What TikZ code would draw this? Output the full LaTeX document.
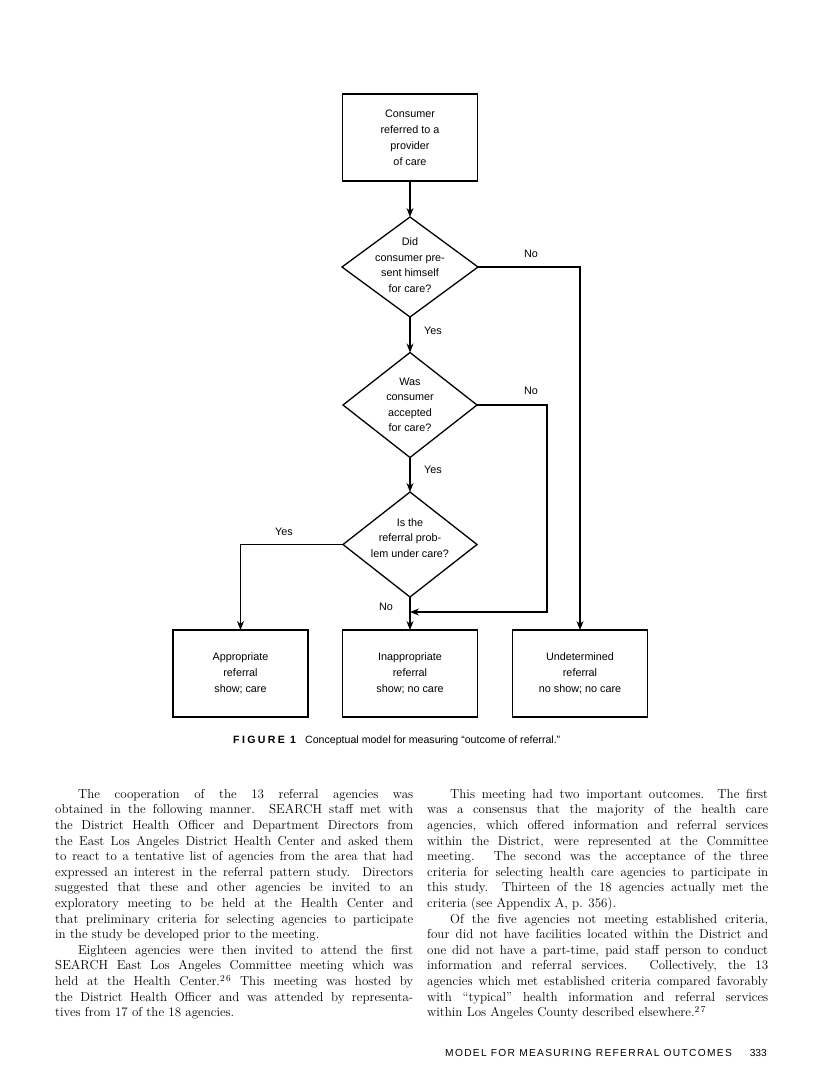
\documentclass[tikz,border=0pt]{standalone}
\usepackage{fontspec}
\newfontfamily\helv{Liberation Sans}
\newfontfamily\helvsp[LetterSpace=13]{Liberation Sans}
\newfontfamily\helvwide[LetterSpace=22]{Liberation Sans}
\usetikzlibrary{shapes.geometric,arrows.meta}
\newcommand{\jlL}[1]{\makebox[358pt][s]{#1}}
\newcommand{\jlR}[1]{\makebox[341pt][s]{#1}}
\begin{document}
\begin{tikzpicture}[x=1pt,y=-1pt,
  box/.style={draw, line width=1.3pt, minimum width=135pt, minimum height=87pt, inner sep=0pt, outer sep=0pt,
     font=\helv\fontsize{10.8}{16}\selectfont, align=center},
  decision/.style={draw, diamond, line width=1.3pt, inner sep=0pt, outer sep=0pt},
  ftext/.style={font=\helv\fontsize{10.8}{15.5}\selectfont, align=center, inner sep=0pt},
  lab/.style={font=\helv\fontsize{10.8}{13}\selectfont, inner sep=0pt},
  arr/.style={line width=1.2pt, -{Stealth[length=9pt,width=7pt]}},
  body/.style={font=\fontsize{13}{15.6}\selectfont, align=left, inner sep=0pt, anchor=north west}
]
\fill[white] (0,0) rectangle (816,1080);
\useasboundingbox (0,0) rectangle (816,1080);

% flowchart nodes
\node[box] (b1) at (410,137.5) {Consumer\\referred to a\\provider\\of care};
\node[decision, minimum width=136pt, minimum height=100pt] (d1) at (410,267) {};
\node[ftext] (d1t) at (410,265) {Did\\consumer pre-\\sent himself\\for care?};
\node[decision, minimum width=134pt, minimum height=105pt] (d2) at (410,405) {};
\node[ftext] (d2t) at (410,405) {Was\\consumer\\accepted\\for care?};
\node[decision, minimum width=134pt, minimum height=105pt] (d3) at (410,544.5) {};
\node[ftext] (d3t) at (410,538) {Is the\\referral prob-\\lem under care?};
\node[box] (A) at (240.5,673.5) {Appropriate\\referral\\show; care};
\node[box] (B) at (410,673.5) {Inappropriate\\referral\\show; no care};
\node[box] (C) at (580,673.5) {Undetermined\\referral\\no show; no care};

% labels
\node[lab] (y1) at (433,331) {Yes};
\node[lab] (n1) at (531,254) {No};
\node[lab] (n2) at (531,391) {No};
\node[lab] (y2) at (433,470) {Yes};
\node[lab] (y3) at (284,532) {Yes};
\node[lab] (n3) at (386,607) {No};

% connectors
\coordinate (k) at (547,612);
\coordinate (j) at (410,612);
\draw[arr] (b1.south) -- (d1.north);
\draw[arr] (d1.south) -- (d2.north);
\draw[arr] (d2.south) -- (d3.north);
\draw[arr] (d3.south) -- (B.north);
\draw[arr] (d1.east) -| (C.north);
\draw[arr] (d3.west) -| (A.north);
\draw[arr] (d2.east) -| (k) -- (j);

% caption
\node[anchor=base west, inner sep=0pt, font=\helvwide\bfseries\fontsize{10.6}{12}\selectfont] (figlab) at (233,743) {FIGURE 1};
\node[anchor=base west, inner sep=0pt, font=\helv\fontsize{10.6}{12}\selectfont] (figcap) at (305,743) {Conceptual model for measuring “outcome of referral.”};

% body text
\node[body] (colL) at (55,789) {%
\jlL{\hspace*{23pt}The cooperation of the 13 referral agencies was}\\
\jlL{obtained in the following manner. SEARCH staff met with}\\
\jlL{the District Health Officer and Department Directors from}\\
\jlL{the East Los Angeles District Health Center and asked them}\\
\jlL{to react to a tentative list of agencies from the area that had}\\
\jlL{expressed an interest in the referral pattern study. Directors}\\
\jlL{suggested that these and other agencies be invited to an}\\
\jlL{exploratory meeting to be held at the Health Center and}\\
\jlL{that preliminary criteria for selecting agencies to participate}\\
in the study be developed prior to the meeting.\\
\jlL{\hspace*{23pt}Eighteen agencies were then invited to attend the first}\\
\jlL{SEARCH East Los Angeles Committee meeting which was}\\
\jlL{held at the Health Center.\textsuperscript{2\,6} This meeting was hosted by}\\
\jlL{the District Health Officer and was attended by representa-}\\
tives from 17 of the 18 agencies.};

\node[body] (colR) at (427,789) {%
\jlR{\hspace*{23pt}This meeting had two important outcomes. The first}\\
\jlR{was a consensus that the majority of the health care}\\
\jlR{agencies, which offered information and referral services}\\
\jlR{within the District, were represented at the Committee}\\
\jlR{meeting. The second was the acceptance of the three}\\
\jlR{criteria for selecting health care agencies to participate in}\\
\jlR{this study. Thirteen of the 18 agencies actually met the}\\
criteria (see Appendix A, p. 356).\\
\jlR{\hspace*{23pt}Of the five agencies not meeting established criteria,}\\
\jlR{four did not have facilities located within the District and}\\
\jlR{one did not have a part-time, paid staff person to conduct}\\
\jlR{information and referral services. Collectively, the 13}\\
\jlR{agencies which met established criteria compared favorably}\\
\jlR{with “typical” health information and referral services}\\
within Los Angeles County described elsewhere.\textsuperscript{2\,7}};

% footer
\node[anchor=base west, inner sep=0pt, font=\helvsp\fontsize{10.2}{12}\selectfont] (foot) at (445,1056) {MODEL FOR MEASURING REFERRAL OUTCOMES};
\node[anchor=base east, inner sep=0pt, font=\helv\fontsize{10.2}{12}\selectfont] (pg) at (767,1056) {333};
\end{tikzpicture}
\end{document}
